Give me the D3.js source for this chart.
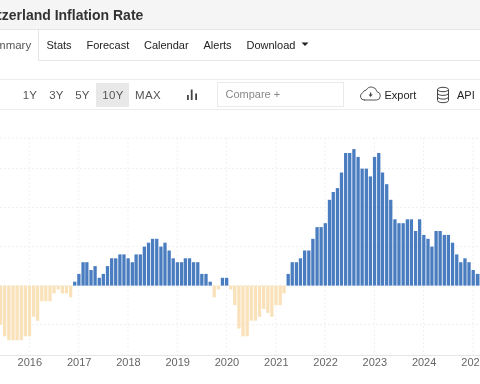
<!DOCTYPE html>
<html><head><meta charset="utf-8">
<script src="https://cdn.jsdelivr.net/npm/d3@7"></script>
<style>html,body{margin:0;padding:0;background:#fff;overflow:hidden}svg{display:block;font-family:"Liberation Sans",Arial,sans-serif;filter:blur(0.3px)}</style>
</head><body><svg id="c" width="480" height="384"></svg>
<script>
const firstMonth = [2015, 5];
const inflation = [
 -1.0,-1.3,-1.4,-1.4,-1.4,-1.4,-1.3,
 -1.3,-0.8,-0.9,-0.4,-0.4,-0.4,-0.2,-0.1,-0.2,-0.2,-0.3,0.1,
 0.3,0.6,0.6,0.4,0.5,0.2,0.3,0.5,0.7,0.7,0.8,0.8,
 0.7,0.6,0.8,0.8,1.0,1.1,1.2,1.2,1.0,1.1,0.9,0.7,
 0.6,0.6,0.7,0.7,0.6,0.6,0.3,0.3,0.1,-0.3,-0.1,0.2,
 0.2,-0.1,-0.5,-1.1,-1.3,-1.3,-0.9,-0.9,-0.8,-0.6,-0.7,-0.8,
 -0.5,-0.5,-0.2,0.3,0.6,0.6,0.7,0.9,0.9,1.2,1.5,1.5,
 1.6,2.2,2.4,2.5,2.9,3.4,3.4,3.5,3.3,3.0,3.0,2.8,
 3.3,3.4,2.9,2.6,2.2,1.7,1.6,1.6,1.7,1.7,1.4,1.7,
 1.3,1.2,1.0,1.4,1.4,1.3,1.3,1.1,0.8,0.6,0.7,0.6,
 0.4,0.3,0.3];
const years = [2016,2017,2018,2019,2020,2021,2022,2023,2024,2025];
const yGrid = [-1,0,1,2,3];
const tabs = ["Stats","Forecast","Calendar","Alerts","Download"];
const ranges = ["1Y","3Y","5Y","10Y","MAX"];

const svg = d3.select("#c");
const months = inflation.map((v,i)=>new Date(firstMonth[0],firstMonth[1]+i,1));
const x = d3.scaleTime().domain([new Date(2016,0,1),new Date(2025,0,1)]).range([29.3,473]);
const y = d3.scaleLinear().domain([0,1]).range([285.6,246.6]);
const top0=138, bot0=355;

// page chrome
svg.append("rect").attr("width",480).attr("height",29).attr("fill","#f5f5f5");
svg.append("line").attr("x1",0).attr("x2",480).attr("y1",29.5).attr("y2",29.5).attr("stroke","#e6e6e6");
svg.append("text").attr("x",-27).attr("y",19.5).attr("font-size",14).attr("font-weight",700).attr("fill","#333").text("Switzerland Inflation Rate");
svg.append("line").attr("x1",38.5).attr("x2",38.5).attr("y1",29).attr("y2",60).attr("stroke","#e6e6e6");
svg.append("line").attr("x1",38).attr("x2",480).attr("y1",60.5).attr("y2",60.5).attr("stroke","#e6e6e6");
svg.append("text").attr("x",-18).attr("y",49).attr("font-size",11.5).attr("fill","#555").text("Summary");
const tabX=[46.5,86.5,144,203.5,246.5];
svg.selectAll(".tab").data(tabs).join("text").attr("x",(d,i)=>tabX[i]).attr("y",49).attr("font-size",11).attr("fill","#222").text(d=>d);
svg.append("path").attr("d","M301.5 42.5h7l-3.5 3.5z").attr("fill","#222");

svg.append("line").attr("x1",0).attr("x2",480).attr("y1",79.5).attr("y2",79.5).attr("stroke","#ececec");
svg.append("line").attr("x1",0).attr("x2",480).attr("y1",109.5).attr("y2",109.5).attr("stroke","#ececec");
svg.append("rect").attr("x",96).attr("y",83).attr("width",33).attr("height",24).attr("fill","#e8e8e8");
const rangeX=[30,56.5,82.5,113,148];
svg.selectAll(".rng").data(ranges).join("text").attr("x",(d,i)=>rangeX[i]).attr("y",99).attr("text-anchor","middle").attr("font-size",11.5).attr("letter-spacing",0.3).attr("fill","#555").text(d=>d);
// chart-type icon
svg.append("g").attr("fill","#444").selectAll("rect").data([[187,95,1.8,5],[190.8,89.5,1.8,10.5],[195.2,93.5,1.8,6.5]]).join("rect")
 .attr("x",d=>d[0]).attr("y",d=>d[1]).attr("width",d=>d[2]).attr("height",d=>d[3]);
svg.append("rect").attr("x",217.5).attr("y",82.5).attr("width",126).attr("height",24).attr("fill","#fff").attr("stroke","#eaeaea");
svg.append("text").attr("x",225.5).attr("y",98).attr("font-size",11).attr("fill","#888").text("Compare +");
// cloud icon
svg.append("path").attr("d","M364 100h12.5a4.2 4.2 0 0 0 .5-8.3a5.8 5.8 0 0 0-10.8-1.6a4 4 0 0 0-3.4 2.6a3.8 3.8 0 0 0 1.7 7.3z").attr("fill","#fff").attr("stroke","#444").attr("stroke-width",0.9);
svg.append("path").attr("d","M368.5 94.5h1.5v-2h1.2v2h1.5l-2.1 2.4z").attr("fill","#444");
svg.append("text").attr("x",384.5).attr("y",98.5).attr("font-size",11).attr("fill","#222").text("Export");
// database icon
const db=svg.append("g").attr("fill","none").attr("stroke","#444").attr("stroke-width",1);
db.append("ellipse").attr("cx",443).attr("cy",89.5).attr("rx",5.5).attr("ry",2.2);
db.append("path").attr("d","M437.5 89.5v11c0 1.3 2.5 2.2 5.5 2.2s5.5-.9 5.5-2.2v-11M437.5 93.2c0 1.3 2.5 2.2 5.5 2.2s5.5-.9 5.5-2.2M437.5 96.9c0 1.3 2.5 2.2 5.5 2.2s5.5-.9 5.5-2.2");
svg.append("text").attr("x",457).attr("y",98.5).attr("font-size",11).attr("fill","#222").text("API");

// grid
const g=svg.append("g");
g.selectAll(".h").data(yGrid).join("line").attr("x1",0).attr("x2",480).attr("y1",d=>y(d)).attr("y2",d=>y(d))
 .attr("stroke","#f0f0f0").attr("stroke-dasharray","2 2");
g.append("line").attr("x1",0).attr("x2",480).attr("y1",top0).attr("y2",top0).attr("stroke","#f0f0f0").attr("stroke-dasharray","2 2");
g.selectAll(".v").data(years).join("line").attr("x1",d=>x(new Date(d,0,1))).attr("x2",d=>x(new Date(d,0,1))).attr("y1",top0).attr("y2",bot0)
 .attr("stroke","#f0f0f0").attr("stroke-dasharray","2 2");

// bars
const bw=3.3;
svg.append("g").selectAll("rect").data(inflation).join("rect")
 .attr("x",(d,i)=>x(months[i])-bw/2+0.2).attr("width",bw)
 .attr("y",d=>Math.min(y(d),y(0))).attr("height",d=>Math.abs(y(d)-y(0)))
 .attr("fill",d=>d>=0?"#4a7dc0":"#f9e2b9");

// axis
const axis=d3.axisBottom(x).tickValues(years.map(d=>new Date(d,0,1))).tickFormat(d3.timeFormat("%Y")).tickSize(0).tickPadding(3.5);
const ax=svg.append("g").attr("transform",`translate(0,${bot0})`).call(axis);
ax.select(".domain").remove();
svg.append("line").attr("x1",0).attr("x2",480).attr("y1",355.5).attr("y2",355.5).attr("stroke","#e6e6e6");
ax.selectAll("text").attr("font-size",11).attr("font-family","Liberation Sans").attr("fill","#666");
</script></body></html>
